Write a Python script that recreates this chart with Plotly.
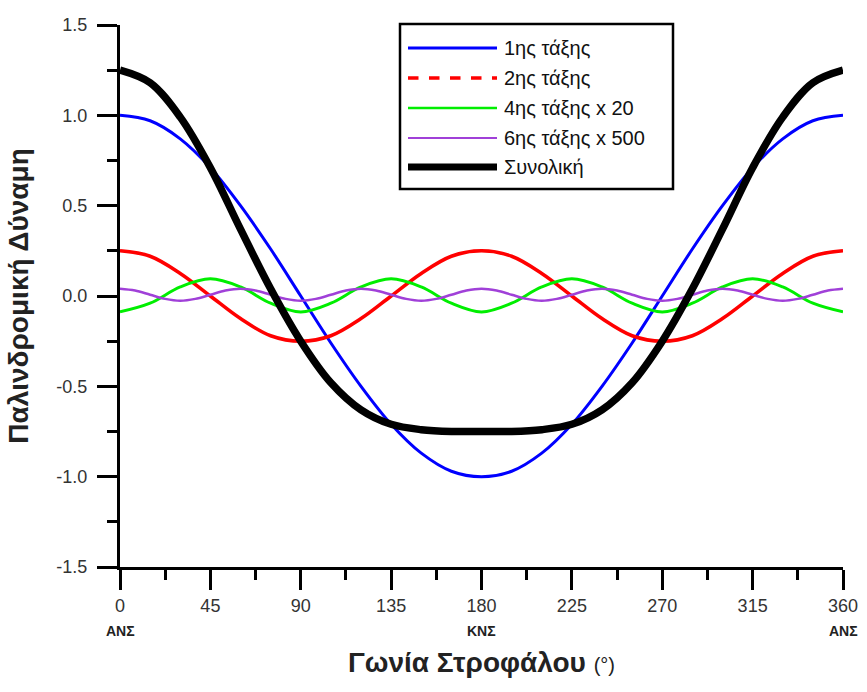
import plotly.graph_objects as go

# ---- data ----
angles = [0, 15, 30, 45, 60, 75, 90, 105, 120, 135, 150, 165, 180,
          195, 210, 225, 240, 255, 270, 285, 300, 315, 330, 345, 360]
angles_fine = [0, 7.5, 15, 22.5, 30, 37.5, 45, 52.5, 60, 67.5, 75, 82.5, 90,
               97.5, 105, 112.5, 120, 127.5, 135, 142.5, 150, 157.5, 165, 172.5, 180,
               187.5, 195, 202.5, 210, 217.5, 225, 232.5, 240, 247.5, 255, 262.5, 270,
               277.5, 285, 292.5, 300, 307.5, 315, 322.5, 330, 337.5, 345, 352.5, 360]

first = [1.0, 0.97, 0.87, 0.71, 0.5, 0.26, 0.0, -0.26, -0.5, -0.71, -0.87, -0.97, -1.0,
         -0.97, -0.87, -0.71, -0.5, -0.26, 0.0, 0.26, 0.5, 0.71, 0.87, 0.97, 1.0]
second = [0.25, 0.22, 0.125, 0.0, -0.125, -0.22, -0.25, -0.22, -0.125, 0.0, 0.125, 0.22, 0.25,
          0.22, 0.125, 0.0, -0.125, -0.22, -0.25, -0.22, -0.125, 0.0, 0.125, 0.22, 0.25]
fourth_x20 = [-0.088, -0.04, 0.05, 0.095, 0.05, -0.04, -0.088, -0.04, 0.05, 0.095, 0.05, -0.04, -0.088,
              -0.04, 0.05, 0.095, 0.05, -0.04, -0.088, -0.04, 0.05, 0.095, 0.05, -0.04, -0.088]
sixth_x500 = [0.040, 0.030, 0.007, -0.016, -0.026, -0.016, 0.007, 0.030,
              0.040, 0.030, 0.007, -0.016, -0.026, -0.016, 0.007, 0.030,
              0.040, 0.030, 0.007, -0.016, -0.026, -0.016, 0.007, 0.030,
              0.040, 0.030, 0.007, -0.016, -0.026, -0.016, 0.007, 0.030,
              0.040, 0.030, 0.007, -0.016, -0.026, -0.016, 0.007, 0.030,
              0.040, 0.030, 0.007, -0.016, -0.026, -0.016, 0.007, 0.030,
              0.040]
total = [1.25, 1.18, 0.99, 0.71, 0.37, 0.04, -0.25, -0.48, -0.63, -0.71, -0.74, -0.75, -0.75,
         -0.75, -0.74, -0.71, -0.63, -0.48, -0.25, 0.04, 0.37, 0.71, 0.99, 1.18, 1.25]

x_ticks = [0, 45, 90, 135, 180, 225, 270, 315, 360]
x_minor_ticks = [22.5, 67.5, 112.5, 157.5, 202.5, 247.5, 292.5, 337.5]
y_ticks = [-1.5, -1.0, -0.5, 0.0, 0.5, 1.0, 1.5]
y_minor_ticks = [-1.25, -0.75, -0.25, 0.25, 0.75, 1.25]
y_ticktext = ["-1.5", "-1.0", "-0.5", "0.0", "0.5", "1.0", "1.5"]
position_labels = [(0, "ΑΝΣ"), (180, "ΚΝΣ"), (360, "ΑΝΣ")]

legend_names = ["1ης τάξης", "2ης τάξης", "4ης τάξης x 20", "6ης τάξης x 500", "Συνολική"]

BLUE, RED, GREEN, PURPLE, BLACK = "#0000FF", "#FF0000", "#00EE00", "#A040D8", "#000000"
FONT = "Liberation Sans, Arial, sans-serif"

fig = go.Figure()
series = [
    (angles, first, BLUE, 3),
    (angles, second, RED, 3.5),
    (angles, fourth_x20, GREEN, 3),
    (angles_fine, sixth_x500, PURPLE, 2.5),
    (angles, total, BLACK, 7.5),
]
for xs, ys, col, w in series:
    fig.add_trace(go.Scatter(x=xs, y=ys, mode="lines",
                             line=dict(color=col, width=w, shape="spline", smoothing=1.0),
                             showlegend=False, hoverinfo="skip"))

# ---- manual legend (pixel -> paper) ----
L, R, T, B = 120, 843, 25, 567
def px(x): return (x - L) / (R - L)
def py(y): return (B - y) / (B - T)

shapes = [dict(type="rect", xref="paper", yref="paper",
               x0=px(400), x1=px(673), y0=py(189), y1=py(24),
               line=dict(color="black", width=2.5), fillcolor="white", layer="below")]
rows = [48, 78, 108, 138, 167]
leg_styles = [(BLUE, 3, "solid"), (RED, 3.5, "dash"), (GREEN, 2.5, "solid"),
              (PURPLE, 2, "solid"), (BLACK, 7, "solid")]
annotations = []
for yy, (col, w, dash), name in zip(rows, leg_styles, legend_names):
    shapes.append(dict(type="line", xref="paper", yref="paper",
                       x0=px(408), x1=px(497), y0=py(yy), y1=py(yy),
                       line=dict(color=col, width=w, dash=dash)))
    annotations.append(dict(xref="paper", yref="paper", x=px(502), y=py(yy),
                            text=name, showarrow=False, xanchor="left", yanchor="middle",
                            font=dict(family=FONT, size=20, color="#111")))

for xv, lab in position_labels:
    annotations.append(dict(xref="x", yref="paper", x=xv, y=py(631), text="<b>" + lab + "</b>",
                            showarrow=False, xanchor="center", yanchor="middle",
                            font=dict(family=FONT, size=14, color="#222")))

fig.update_layout(
    width=867, height=692,
    margin=dict(l=L, r=867 - R, t=T, b=692 - B),
    paper_bgcolor="white", plot_bgcolor="white",
    font=dict(family=FONT, color="#222"),
    shapes=shapes, annotations=annotations,
    showlegend=False,
)
fig.update_xaxes(range=[0, 360], tickmode="array", tickvals=x_ticks, ticks="outside",
                 ticklen=20, tickwidth=3,
                 tickcolor="black", showline=True, linewidth=3, linecolor="black",
                 showgrid=False, zeroline=False,
                 tickfont=dict(family=FONT, size=18, color="#333"),
                 minor=dict(tickmode="array", tickvals=x_minor_ticks, ticks="outside",
                            ticklen=10, tickwidth=3, tickcolor="black", showgrid=False),
                 title=dict(text="<b>Γωνία Στροφάλου</b> <span style='font-size:20px'>(°)</span>",
                            font=dict(family=FONT, size=28, color="#222"), standoff=38),
                 automargin=False)
fig.update_yaxes(range=[-1.5, 1.5], tickmode="array", tickvals=y_ticks, ticktext=y_ticktext,
                 ticks="outside", ticklen=20, tickwidth=3, tickcolor="black", showline=True,
                 linewidth=3, linecolor="black", showgrid=False, zeroline=False,
                 ticklabelstandoff=6,
                 tickfont=dict(family=FONT, size=18, color="#333"),
                 minor=dict(tickmode="array", tickvals=y_minor_ticks, ticks="outside",
                            ticklen=10, tickwidth=3, tickcolor="black", showgrid=False),
                 title=dict(text="<b>Παλινδρομική Δύναμη</b>",
                            font=dict(family=FONT, size=28, color="#222"), standoff=20),
                 automargin=False)

fig.write_html("out.html")
